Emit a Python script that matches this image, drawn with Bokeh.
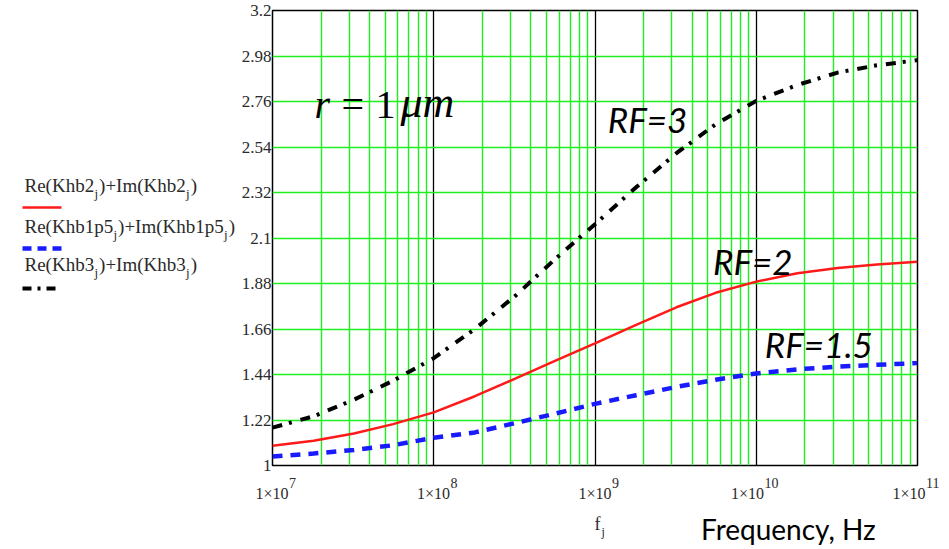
from bokeh.plotting import figure
from bokeh.layouts import row, column
from bokeh.models import FixedTicker, CustomJSTickFormatter, Label, Range1d
from bokeh.core.properties import value
from bokeh.embed import file_html
from bokeh.resources import INLINE

# ---------------- data ----------------
frequency_hz = [1.0e7, 1.8e7, 3.2e7, 5.6e7, 1.0e8, 1.8e8, 3.2e8, 5.6e8, 1.0e9,
                1.8e9, 3.2e9, 5.6e9, 1.0e10, 1.8e10, 3.2e10, 5.6e10, 1.0e11]
khb2 = [1.096, 1.120, 1.155, 1.200, 1.257, 1.335, 1.420, 1.505, 1.590,
        1.680, 1.765, 1.835, 1.889, 1.930, 1.955, 1.972, 1.985]
khb1p5 = [1.043, 1.058, 1.075, 1.098, 1.134, 1.160, 1.205, 1.250, 1.298,
          1.340, 1.380, 1.415, 1.445, 1.465, 1.478, 1.487, 1.495]
khb3 = [1.183, 1.238, 1.318, 1.410, 1.519, 1.660, 1.820, 1.995, 2.167,
        2.345, 2.510, 2.650, 2.763, 2.840, 2.900, 2.935, 2.960]

y_ticks = [1.0, 1.22, 1.44, 1.66, 1.88, 2.1, 2.32, 2.54, 2.76, 2.98, 3.2]
x_decades = [1e7, 1e8, 1e9, 1e10, 1e11]
x_exponents = ["7", "8", "9", "10", "11"]
x_minor = [m * d for d in [1e7, 1e8, 1e9, 1e10] for m in range(2, 10)]

legend_names = ["Khb2", "Khb1p5", "Khb3"]
series_labels = ["RF=2", "RF=1.5", "RF=3"]

GREEN = "#1ef01e"
SERIF = "Liberation Serif"
TXT = "#2a2a2a"
RED, BLUE, BLACK = "#ff1a1a", "#1a1aff", "black"

# ---------------- layout constants (pixels) ----------------
W, H = 949, 549
LEG_W = 238
FR_L, FR_R, FR_T, FR_B = 271, 917, 10, 465     # chart frame on the page
MAIN_H = 475
BL = 0.4                                       # baseline correction (em)


def bare(fig):
    fig.background_fill_color = "white"
    fig.border_fill_color = "white"
    fig.outline_line_color = None
    fig.grid.visible = False
    return fig


# ---------------- main chart ----------------
p = figure(width=W - LEG_W, height=MAIN_H, x_axis_type="log",
           x_range=Range1d(1e7, 1e11), y_range=Range1d(1.0, 3.2),
           output_backend="svg", toolbar_location=None,
           min_border_left=FR_L - LEG_W, min_border_right=W - FR_R,
           min_border_top=FR_T, min_border_bottom=MAIN_H - FR_B)
p.background_fill_color = "white"
p.border_fill_color = "white"
p.outline_line_color = "black"
p.outline_line_width = 1.5

xt = FixedTicker(ticks=x_decades, minor_ticks=x_minor)
p.xaxis.ticker = xt
p.xaxis.visible = False
p.xgrid.ticker = xt
p.xgrid.grid_line_color = "black"
p.xgrid.grid_line_width = 1.3
p.xgrid.minor_grid_line_color = GREEN
p.xgrid.minor_grid_line_width = 1.4

yt = FixedTicker(ticks=y_ticks, minor_ticks=[])
p.yaxis.ticker = yt
p.yaxis.formatter = CustomJSTickFormatter(code="return String(Math.round(tick*100)/100)")
p.yaxis.axis_line_color = None
p.yaxis.major_tick_line_color = None
p.yaxis.minor_tick_line_color = None
p.yaxis.major_tick_out = 0
p.yaxis.major_tick_in = 0
p.yaxis.minor_tick_out = 0
p.yaxis.minor_tick_in = 0
p.yaxis.major_label_standoff = 1
p.yaxis.major_label_text_font = SERIF
p.yaxis.major_label_text_font_size = "17px"
p.yaxis.major_label_text_color = TXT
p.ygrid.ticker = yt
p.ygrid.grid_line_color = GREEN
p.ygrid.grid_line_width = 1.4

p.line(frequency_hz, khb2, line_color=RED, line_width=2.5)
p.line(frequency_hz, khb1p5, line_color=BLUE, line_width=4.5, line_dash="10 8")
p.line(frequency_hz, khb3, line_color=BLACK, line_width=4, line_dash="10 7 3 9")

RF_FS = 35
rf_x = [5.4e9, 1.13e10, 1.2e9]
rf_y = [1.922, 1.519, 2.61]
for t, xx, yy in zip(series_labels, rf_x, rf_y):
    p.add_layout(Label(x=xx, y=yy, y_offset=BL * RF_FS, text=t, text_align="left",
                       text_baseline="alphabetic", text_font="Lato",
                       text_font_style="italic", text_font_size=f"{RF_FS}px",
                       text_color="black"))

r_parts = [("r", "italic", 42, 40), ("=", "normal", 69, 40), ("1", "normal", 103, 40),
           ("μm", "italic", 128, 44)]
for t, style, xo, fs in r_parts:
    p.add_layout(Label(x=1e7, y=1.0, x_offset=xo, y_offset=(FR_B - 120) + BL * fs, text=t,
                       text_align="left", text_baseline="alphabetic",
                       text_font=SERIF, text_font_style=style,
                       text_font_size=f"{fs}px", text_color="black"))

# ---------------- legend panel (left) ----------------
leg = bare(figure(width=LEG_W, height=MAIN_H, x_range=Range1d(0, LEG_W),
                  y_range=Range1d(FR_B, FR_T), output_backend="svg",
                  toolbar_location=None, x_axis_location=None, y_axis_location=None,
                  min_border_left=0, min_border_right=0,
                  min_border_top=FR_T, min_border_bottom=MAIN_H - FR_B))

TIMES = {'R': 667, 'e': 444, '(': 333, ')': 333, 'K': 722, 'h': 500, 'b': 500,
         '1': 500, '2': 500, '3': 500, '5': 500, 'p': 500, '+': 564, 'I': 333,
         'm': 778, 'j': 278}


def tw(s, size):
    return sum(TIMES.get(c, 500) for c in s) * size / 1000.0


MAIN_FS, SUB_FS = 19.0, 13.0
row_base = [193, 234, 272]
row_line = [207, 248, 288]
legend_styles = [dict(line_color=RED, line_width=2.5),
                 dict(line_color=BLUE, line_width=4.5, line_dash="9 6"),
                 dict(line_color=BLACK, line_width=4, line_dash="9 6 3 6")]
for name, st, yb, yl in zip(legend_names, legend_styles, row_base, row_line):
    segs = [("Re(" + name, MAIN_FS, 0), ("j", SUB_FS, 5), (")+Im(" + name, MAIN_FS, 0),
            ("j", SUB_FS, 5), (")", MAIN_FS, 0)]
    x = 24.0
    for s, size, dy in segs:
        leg.text(x=[x], y=[yb + dy - BL * size], text=[s], text_align="left",
                 text_baseline="alphabetic", text_font=value(SERIF),
                 text_font_size=value(f"{size}px"), text_color=TXT)
        x += tw(s, size) + (1.0 if size == SUB_FS else 0.3)
    leg.line(x=[22, 61], y=[yl, yl], **st)

# ---------------- bottom strip (tick labels and axis names) ----------------
px_per_decade = (FR_R - FR_L) / 4.0
strip_range = Range1d(10 ** (7 - FR_L / px_per_decade), 10 ** (11 + (W - FR_R) / px_per_decade))
strip = bare(figure(width=W, height=H - MAIN_H, x_axis_type="log", x_range=strip_range,
                    y_range=Range1d(H, MAIN_H), output_backend="svg",
                    toolbar_location=None, x_axis_location=None, y_axis_location=None,
                    min_border=0))

BASE_FS, EXP_FS = 16, 14
for dec, ex in zip(x_decades, x_exponents):
    off = 17 if len(ex) == 1 else 8
    strip.text(x=[dec], y=[499 - BL * BASE_FS], text=["1×10"], x_offset=off,
               text_align="right", text_baseline="alphabetic", text_font=value(SERIF),
               text_font_size=value(f"{BASE_FS}px"), text_color=TXT)
    strip.text(x=[dec], y=[488.5 - BL * EXP_FS], text=[ex], x_offset=off + 0.5,
               text_align="left", text_baseline="alphabetic", text_font=value(SERIF),
               text_font_size=value(f"{EXP_FS}px"), text_color=TXT)

strip.text(x=[1e9], y=[531 - BL * 18], text=["f"], x_offset=6, text_align="right",
           text_baseline="alphabetic", text_font=value(SERIF),
           text_font_size=value("18px"), text_color=TXT)
strip.text(x=[1e9], y=[536 - BL * 12], text=["j"], x_offset=7, text_align="left",
           text_baseline="alphabetic", text_font=value(SERIF),
           text_font_size=value("12px"), text_color=TXT)
strip.text(x=[1e10], y=[540 - BL * 28], text=["Frequency, Hz"], x_offset=-55,
           text_align="left", text_baseline="alphabetic", text_font=value("Lato"),
           text_font_size=value("28px"), text_color="black")

layout = column(row(leg, p, spacing=0), strip, spacing=0)
open("out.html", "w").write(file_html(layout, INLINE))
